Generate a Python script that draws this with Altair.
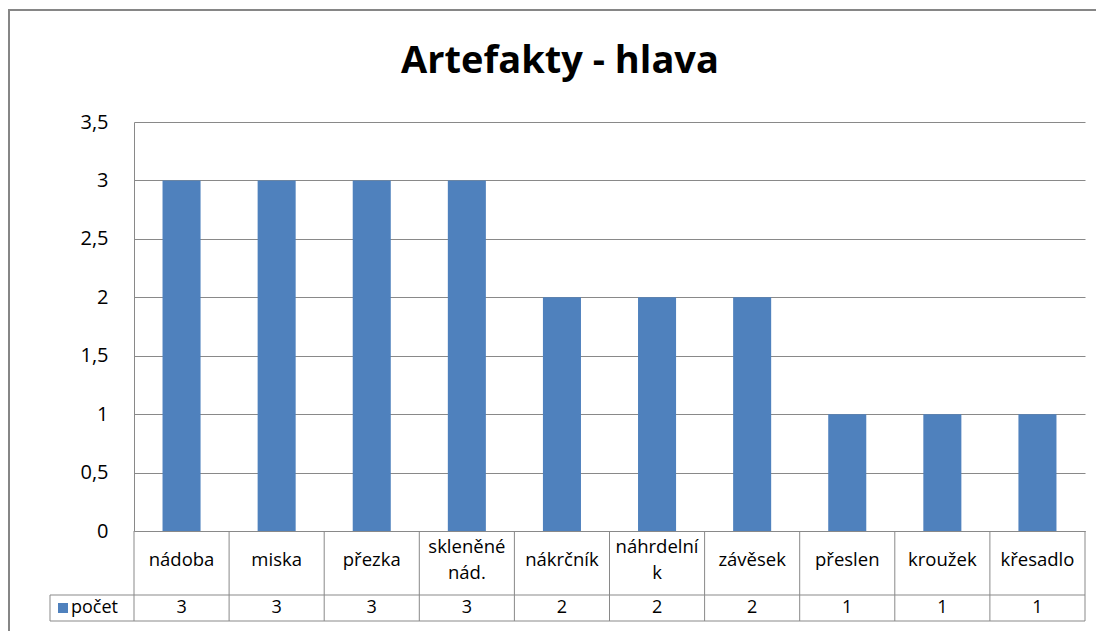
import altair as alt
import pandas as pd

categories = ["nádoba", "miska", "přezka", "skleněné nád.", "nákrčník",
              "náhrdelník", "závěsek", "přeslen", "kroužek", "křesadlo"]
values = [3, 3, 3, 3, 2, 2, 2, 1, 1, 1]
series_name = "počet"
title_text = "Artefakty - hlava"
y_ticks = [0, 0.5, 1, 1.5, 2, 2.5, 3, 3.5]

df = pd.DataFrame({"kategorie": categories, "hodnota": values})

W, H = 951, 409
FONT = "Open Sans"
BAR = "#4F81BD"
GRAY = "#898989"
P_IN, P_OUT = 0.6, 0.3
STEP = W / (len(categories) - P_IN + 2 * P_OUT)

xscale = alt.Scale(domain=categories, paddingInner=P_IN, paddingOuter=P_OUT)
xenc = alt.X("kategorie:N", sort=categories, scale=xscale)

base = alt.Chart(df)

bars = base.mark_bar(color=BAR).encode(
    x=alt.X("kategorie:N", sort=categories, scale=xscale,
            axis=alt.Axis(title=None, labels=False, ticks=False, grid=False,
                          domainColor=GRAY, domainWidth=1)),
    y=alt.Y("hodnota:Q", scale=alt.Scale(domain=[0, 3.5], nice=False),
            axis=alt.Axis(title=None, values=y_ticks, ticks=False, labelPadding=26,
                          labelFontSize=20, labelFont=FONT, labelColor="#000000",
                          labelExpr="replace(toString(datum.value), '.', ',')",
                          gridColor=GRAY, gridWidth=1, domainColor=GRAY, domainWidth=1)),
)

# table cell separators at band boundaries
sep = base.mark_rule(color=GRAY, strokeWidth=1).encode(
    x=alt.X("kategorie:N", sort=categories, scale=xscale, bandPosition=0),
    xOffset=alt.value(-P_IN * STEP / 2),
    y=alt.value(H), y2=alt.value(499),
)

cat_labels = base.transform_calculate(
    lbl="indexof(datum.kategorie, ' ') > 0 ? replace(datum.kategorie, ' ', '\\n') : "
        "(length(datum.kategorie) > 9 ? slice(datum.kategorie, 0, 9) + '\\n' + slice(datum.kategorie, 9) : datum.kategorie)",
    off="indexof(datum.lbl, '\\n') > 0 ? -13 : 0",
).mark_text(font=FONT, fontSize=18.5, color="#000000", lineBreak="\n", lineHeight=26,
            baseline="middle", align="center").encode(
    x=xenc,
    y=alt.value(438),
    yOffset=alt.YOffset("off:Q", scale=None),
    text="lbl:N",
)

val_labels = base.mark_text(font=FONT, fontSize=18, color="#000000",
                            baseline="middle", align="center").encode(
    x=xenc,
    y=alt.value(486),
    text="hodnota:Q",
)

one = alt.Chart(pd.DataFrame({"serie": [series_name], "nazev": [title_text]}))

rule1 = one.mark_rule(color=GRAY, strokeWidth=1).encode(
    x=alt.value(-84), x2=alt.value(W), y=alt.value(473))
rule2 = one.mark_rule(color=GRAY, strokeWidth=1).encode(
    x=alt.value(-84), x2=alt.value(W), y=alt.value(499))
rule3 = one.mark_rule(color=GRAY, strokeWidth=1).encode(
    x=alt.value(-84), y=alt.value(473), y2=alt.value(499))
rule4 = one.mark_rule(color=GRAY, strokeWidth=1).encode(
    x=alt.value(W), y=alt.value(H), y2=alt.value(499))

legend_sq = one.mark_square(color=BAR, size=100, opacity=1).encode(
    x=alt.value(-71), y=alt.value(486))
legend_txt = one.mark_text(font=FONT, fontSize=18, color="#000000", align="left",
                           baseline="middle").encode(
    x=alt.value(-63), y=alt.value(486), text="serie:N")

title = one.mark_text(font=FONT, fontSize=38, fontWeight="bold", color="#000000",
                      align="center", baseline="middle").encode(
    x=alt.value(426), y=alt.value(-60), text="nazev:N")

border = one.mark_rect(filled=False, stroke="#868686", strokeWidth=2).encode(
    x=alt.value(-125), x2=alt.value(990), y=alt.value(-112), y2=alt.value(560))

chart = alt.layer(
    border, bars, sep, cat_labels, val_labels, rule1, rule2, rule3, rule4,
    legend_sq, legend_txt, title
).properties(
    width=W, height=H,
    autosize=alt.AutoSizeParams(type="none"),
    padding={"left": 126, "top": 114, "right": 11, "bottom": 100},
).configure_view(stroke=None)

chart.save("out.html", embed_options={"renderer": "svg", "actions": False})
